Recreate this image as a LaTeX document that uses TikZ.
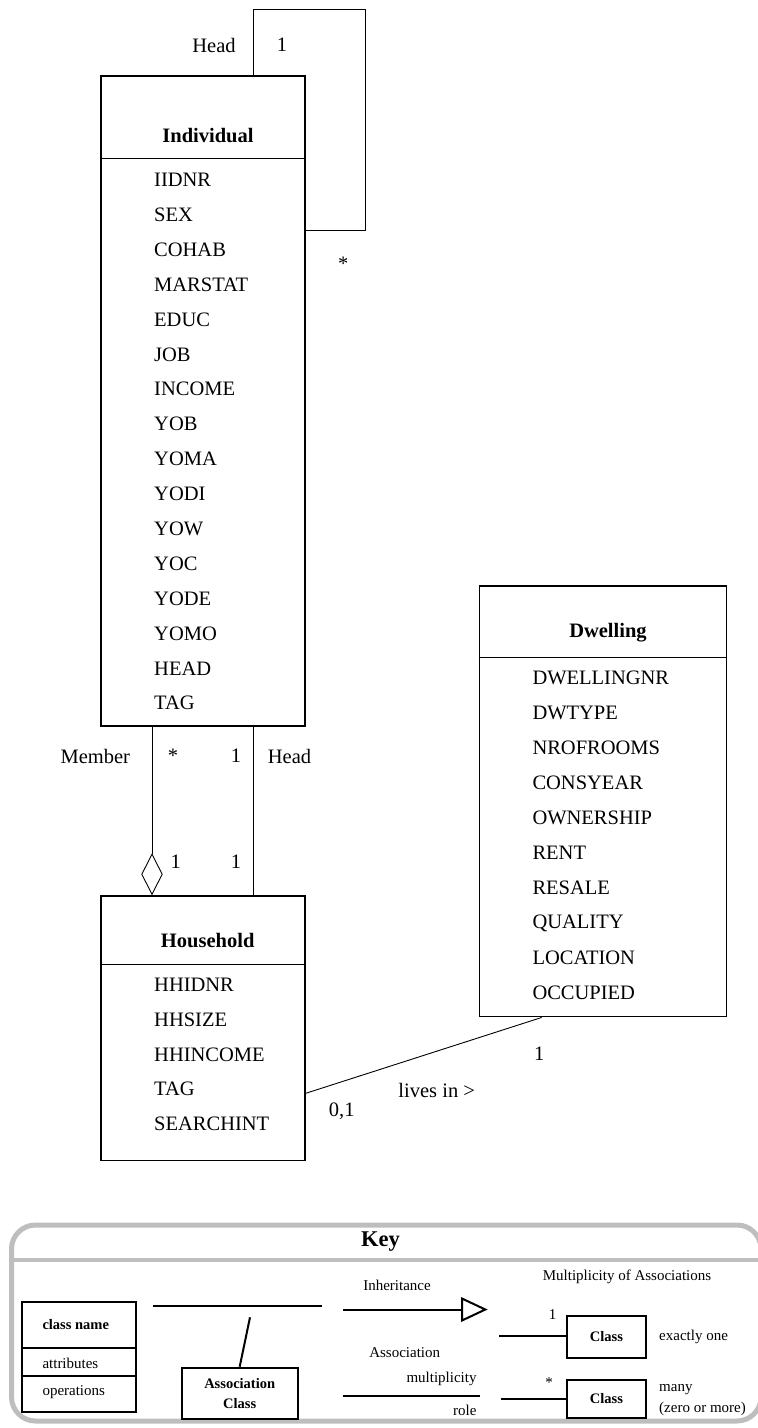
\documentclass[tikz,border=0pt]{standalone}
\usepackage{fontspec}
\setmainfont{Liberation Serif}
\usetikzlibrary{arrows.meta}
\definecolor{keygray}{RGB}{190,190,190}
\begin{document}
\begin{tikzpicture}[x=1pt,y=-1pt,
  classbox/.style={draw, line width=1.5pt, rectangle, inner sep=0pt},
  sepline/.style={line width=1pt},
  assoc/.style={line width=0.9pt},
  loopline/.style={line width=1.4pt},
  big/.style={font=\fontsize{20.5}{24}\selectfont, inner sep=0pt},
  attr/.style={big, anchor=west},
  cname/.style={font=\fontsize{20.5}{24}\selectfont\bfseries, inner sep=0pt},
  keytxt/.style={font=\fontsize{15}{18}\selectfont, inner sep=0pt},
  keybold/.style={font=\fontsize{14.5}{20}\selectfont\bfseries, inner sep=0pt},
  keybox/.style={draw, line width=2pt, rectangle, inner sep=0pt},
  keyline/.style={line width=2pt},
  keyframe/.style={draw=keygray, line width=5pt, rounded corners=24pt}
]
\useasboundingbox (0,0) rectangle (758,1428);

% ---------- classes ----------
\node[classbox, minimum width=204, minimum height=650] (ind) at (203,401) {};
\node[classbox, minimum width=204, minimum height=264.7] (hh) at (203,1028.35) {};
\node[classbox, minimum width=247.2, minimum height=430.7] (dw) at (602.9,801.35) {};

% compartment separators
\draw[sepline] (ind.west |- 0,158.7) -- (ind.east |- 0,158.7);
\draw[sepline] (hh.west |- 0,964) -- (hh.east |- 0,964);
\draw[sepline] (dw.west |- 0,657.7) -- (dw.east |- 0,657.7);

% class names
\node[cname] (indname) at (208,136) {Individual};
\node[cname] (hhname) at (207.7,940.7) {Household};
\node[cname] (dwname) at (608,633) {Dwelling};

% attributes
\foreach \t [count=\i from 0] in {IIDNR,SEX,COHAB,MARSTAT,EDUC,JOB,INCOME,YOB,YOMA,YODI,YOW,YOC,YODE,YOMO,HEAD,TAG}
  \node[attr] (ia\i) at (154,180+34.88*\i) {\t};
\foreach \t [count=\i from 0] in {HHIDNR,HHSIZE,HHINCOME,TAG,SEARCHINT}
  \node[attr] (ha\i) at (154,984.5+34.9*\i) {\t};
\foreach \t [count=\i from 0] in {DWELLINGNR,DWTYPE,NROFROOMS,CONSYEAR,OWNERSHIP,RENT,RESALE,QUALITY,LOCATION,OCCUPIED}
  \node[attr] (da\i) at (532.3,678+35*\i) {\t};

% ---------- associations ----------
% recursive "Head" association on Individual
\coordinate (loopup) at (253.7,9.3);
\coordinate (loopright) at (365.3,230.7);
\draw[loopline] (ind.north -| loopup) -- (loopup) -| (loopright) -- (ind.east |- loopright);
\node[big] (lhead) at (214,45) {Head};
\node[big] (lone) at (282,45) {1};
\node[big] (lstar) at (343.3,263.7) {*};

% Member (aggregation) and Head between Individual and Household
\coordinate (memx) at (152,0);
\coordinate (headx) at (253.7,0);
\draw[assoc, -{Diamond[open, length=42pt, width=21.4pt, line width=0.9pt]}]
  (ind.south -| memx) -- (hh.north -| memx);
\draw[assoc] (ind.south -| headx) -- (hh.north -| headx);
\node[big] (mlab) at (95.3,756) {Member};
\node[big] (mstar) at (173,756) {*};
\node[big] (hone) at (236,756) {1};
\node[big] (hlab) at (289.5,756) {Head};
\node[big] (mone) at (175.7,862) {1};
\node[big] (htwo) at (236,862) {1};

% lives in
\coordinate (livhh) at (305,1093.3);
\coordinate (livdw) at (541.7,1016.7);
\draw[assoc] (hh.east |- livhh) -- (dw.south -| livdw);
\node[big] (zeroone) at (341.7,1111) {0,1};
\node[big] (dwone) at (539.3,1054) {1};
\node[big] (lives) at (436.7,1090.7) {lives in >};

% ---------- key ----------
\draw[keyframe] (11.5,1225) rectangle (761,1421);
\draw[draw=keygray, line width=4pt] (9,1260) -- (761,1260);
\node[font=\fontsize{22.5}{26}\selectfont\bfseries, inner sep=0pt] (keyt) at (380.5,1241.7) {Key};

% class notation
\node[keybox, minimum width=114.3, minimum height=110] (cn) at (78.85,1356.7) {};
\draw[keyline] (cn.west |- 0,1347.7) -- (cn.east |- 0,1347.7);
\draw[keyline] (cn.west |- 0,1376) -- (cn.east |- 0,1376);
\node[keybold, anchor=west] (cnname) at (42.3,1325) {class name};
\node[keytxt, anchor=west] (cnattr) at (42.3,1363.3) {attributes};
\node[keytxt, anchor=west] (cnops) at (42.3,1392) {operations};

% association class notation
\coordinate (al1) at (153.3,1306);
\coordinate (al2) at (322.3,1306);
\draw[keyline] (al1) -- (al2);
\node[keybox, minimum width=116, minimum height=51.6, align=center,
      font=\fontsize{14.5}{20}\selectfont\bfseries] (ac) at (239.7,1393.5) {Association\\Class};
\coordinate (acup) at (250,1317.3);
\draw[keyline] (acup) -- (ac.north);

% inheritance
\coordinate (in1) at (343.3,1309.5);
\coordinate (in2) at (487.7,1309.5);
\draw[keyline, -{Triangle[open, length=26.7pt, width=24.6pt, line width=2pt]}] (in1) -- (in2);
\node[keytxt] (inhlab) at (397,1285) {Inheritance};

% association with multiplicity and role
\node[keytxt] (asslab) at (404.7,1352.7) {Association};
\node[keytxt, anchor=east] (multlab) at (476.7,1379.3) {multiplicity};
\coordinate (as1) at (343.3,1395.7);
\coordinate (as2) at (480,1395.7);
\draw[keyline] (as1) -- (as2);
\node[keytxt, anchor=east] (rolelab) at (476.7,1410.7) {role};

% multiplicity of associations
\node[keytxt] (multhead) at (627,1277.3) {Multiplicity of Associations};
\node[keybox, minimum width=78.4, minimum height=41.7, keybold] (c1) at (606.5,1336.85) {Class};
\node[keybox, minimum width=78.4, minimum height=37.7, keybold] (c2) at (606.5,1398.85) {Class};
\coordinate (m1) at (499,1335.7);
\coordinate (m2) at (500.7,1399);
\draw[keyline] (m1) -- (c1.west |- m1);
\draw[keyline] (m2) -- (c2.west |- m2);
\node[keytxt] (onelab) at (552.7,1315) {1};
\node[keytxt] (starlab) at (549,1382.7) {*};
\node[keytxt, anchor=west] (exone) at (659,1337.3) {exactly one};
\node[keytxt, anchor=west] (many) at (659,1390) {many};
\node[keytxt, anchor=west] (zom) at (659,1409) {(zero or more)};
\end{tikzpicture}
\end{document}
